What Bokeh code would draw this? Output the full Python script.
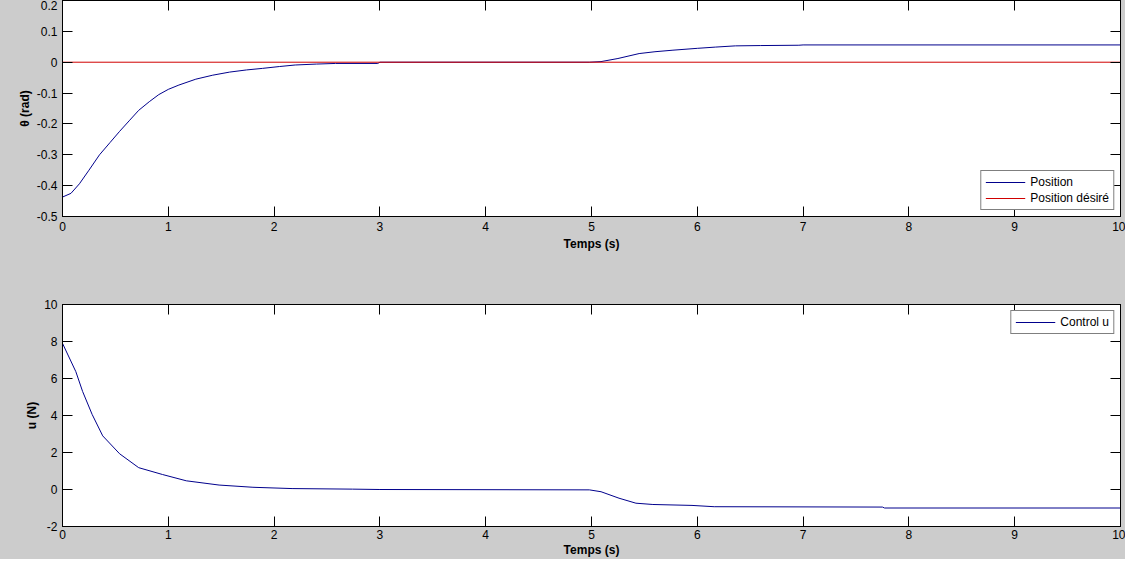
from bokeh.plotting import figure
from bokeh.models import LinearAxis, Range1d, FixedTicker, CustomLabelingPolicy
from bokeh.layouts import column
from bokeh.embed import file_html
from bokeh.resources import INLINE

# ---------------- data ----------------
theta_t = [0, 0.08, 0.16, 0.25, 0.35, 0.45, 0.54, 0.63, 0.72, 0.82, 0.91, 1.0, 1.1,
           1.26, 1.42, 1.58, 1.74, 1.89, 2.05, 2.2, 2.4, 2.58, 2.98, 3.0, 4.98,
           5.09, 5.25, 5.45, 5.6, 5.77, 6.0, 6.17, 6.36, 6.6, 6.96, 7.0, 10.0]
theta_v = [-0.437, -0.425, -0.394, -0.35, -0.30, -0.26, -0.224, -0.19, -0.156, -0.128,
           -0.105, -0.088, -0.074, -0.055, -0.042, -0.032, -0.025, -0.020, -0.014,
           -0.009, -0.006, -0.004, -0.004, 0.0, 0.0, 0.002, 0.012, 0.028, 0.034,
           0.039, 0.045, 0.049, 0.053, 0.054, 0.055, 0.056, 0.056]
desired_t = [0, 10]
desired_v = [0, 0]

u_t = [0, 0.126, 0.19, 0.28, 0.38, 0.54, 0.72, 0.945, 1.17, 1.48, 1.8, 2.17, 2.74,
       3.0, 4.98, 5.09, 5.26, 5.42, 5.58, 5.95, 6.16, 7.75, 7.77, 10.0]
u_v = [7.9, 6.37, 5.3, 4.06, 2.9, 1.93, 1.18, 0.81, 0.47, 0.24, 0.12, 0.05, 0.02,
       0.0, -0.02, -0.12, -0.47, -0.74, -0.81, -0.86, -0.93, -0.95, -1.0, -1.0]

x_ticks = [0, 1, 2, 3, 4, 5, 6, 7, 8, 9, 10]
x_tick_labels = ["0", "1", "2", "3", "4", "5", "6", "7", "8", "9", "10"]
theta_ticks = [-0.5, -0.4, -0.3, -0.2, -0.1, 0, 0.1, 0.2]
theta_tick_labels = ["-0.5", "-0.4", "-0.3", "-0.2", "-0.1", "0", "0.1", "0.2"]
u_ticks = [-2, 0, 2, 4, 6, 8, 10]
u_tick_labels = ["-2", "0", "2", "4", "6", "8", "10"]

# ---------------- style ----------------
FONT = "Liberation Sans"
BG = "#cccccc"
BLUE = "#00008c"
RED = "#d00000"

NO_LABELS = CustomLabelingPolicy(code="return new Set()")


def style_axis(ax, ticks, labels, show_labels=True, label_standoff=3, tick_standoff=4):
    ax.ticker = FixedTicker(ticks=ticks)
    ax.major_tick_in = 10
    ax.major_tick_out = 0
    ax.minor_tick_in = 0
    ax.minor_tick_out = 0
    ax.axis_line_color = "black"
    ax.major_tick_line_color = "black"
    ax.major_label_text_color = "black"
    ax.major_label_text_font = FONT
    ax.axis_label_text_font = FONT
    ax.axis_label_text_font_style = "bold"
    ax.axis_label_text_font_size = "12px"
    ax.axis_label_text_color = "black"
    if show_labels:
        ax.major_label_overrides = {t: l for t, l in zip(ticks, labels)}
        ax.major_label_text_font_size = "12px"
        ax.major_label_standoff = tick_standoff
        ax.axis_label_standoff = label_standoff
    else:
        ax.major_label_policy = NO_LABELS
        ax.major_label_text_font_size = "0px"
        ax.major_label_standoff = 0


def make_fig(height, yr, yticks, ylabels, ylabel, min_top, min_bottom, xstand):
    p = figure(width=1125, height=height,
               x_range=Range1d(0, 10), y_range=Range1d(*yr),
               output_backend="svg", toolbar_location=None,
               min_border_left=62, min_border_right=5,
               min_border_top=min_top, min_border_bottom=min_bottom,
               background_fill_color="white", border_fill_color=BG,
               outline_line_color="black", outline_line_width=1,
               x_axis_label="Temps (s)", y_axis_label=ylabel)
    p.xgrid.visible = False
    p.ygrid.visible = False
    style_axis(p.xaxis[0], x_ticks, x_tick_labels,
               label_standoff=xstand[0], tick_standoff=xstand[1])
    style_axis(p.yaxis[0], yticks, ylabels, label_standoff=2, tick_standoff=5)
    top = LinearAxis()
    style_axis(top, x_ticks, x_tick_labels, show_labels=False)
    p.add_layout(top, "above")
    right = LinearAxis()
    style_axis(right, yticks, ylabels, show_labels=False)
    p.add_layout(right, "right")
    return p


def style_legend(p, loc):
    lg = p.legend[0]
    lg.location = loc
    lg.border_line_color = "black"
    lg.border_line_width = 1
    lg.background_fill_color = "white"
    lg.background_fill_alpha = 1
    lg.label_text_font = FONT
    lg.label_text_font_size = "12px"
    lg.label_text_color = "black"
    lg.glyph_width = 40
    lg.glyph_height = 14
    lg.label_height = 14
    lg.label_standoff = 5
    lg.spacing = 2
    lg.padding = 4
    lg.margin = 6


p1 = make_fig(280, (-0.5, 0.2), theta_ticks, theta_tick_labels, "θ (rad)", 0, 64, (3, 5))
p1.line(theta_t, theta_v, line_color=BLUE, line_width=1, legend_label="Position")
p1.line(desired_t, desired_v, line_color=RED, line_width=1, legend_label="Position désiré")
style_legend(p1, "bottom_right")

p2 = make_fig(279, (-2, 10), u_ticks, u_tick_labels, "u (N)", 24, 28, (1, 3))
p2.line(u_t, u_v, line_color=BLUE, line_width=1, legend_label="Control u")
style_legend(p2, "top_right")

layout = column(p1, p2, spacing=0, styles={"background-color": BG})
open("out.html", "w").write(file_html(layout, INLINE))
